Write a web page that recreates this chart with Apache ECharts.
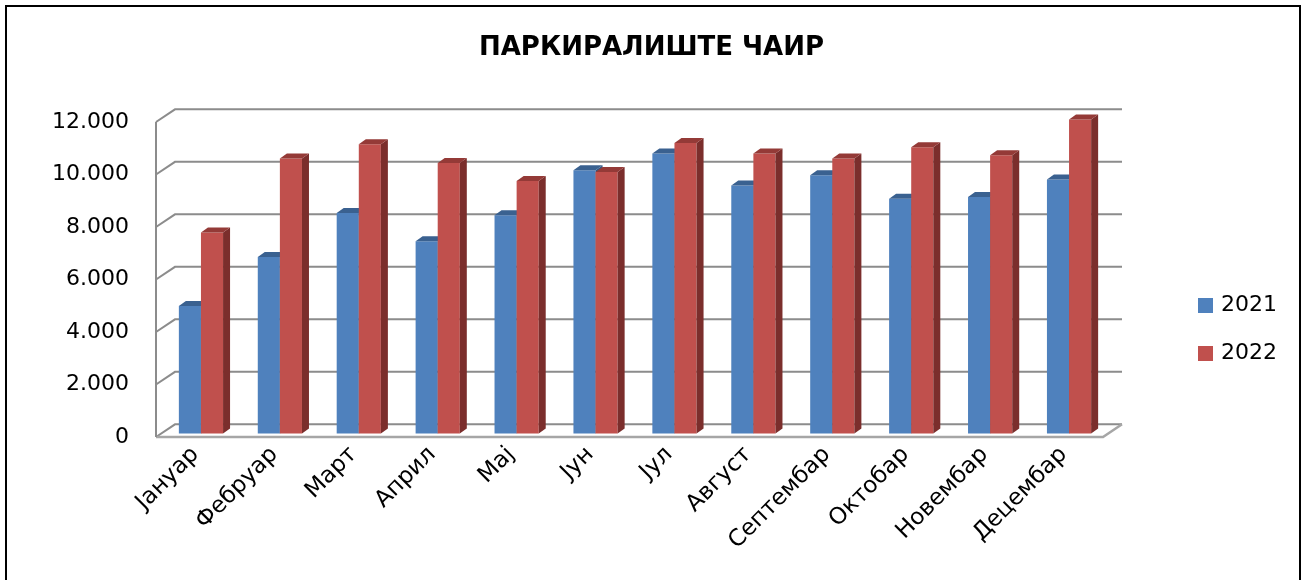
<!DOCTYPE html>
<html><head><meta charset="utf-8">
<script src="https://cdn.jsdelivr.net/npm/echarts@6.0.0/dist/echarts.min.js"></script>
<style>html,body{margin:0;padding:0;background:#fff}#c{width:1303px;height:580px}</style>
</head><body><div id="c"></div>
<script>
const chartTitle = 'ПАРКИРАЛИШТЕ ЧАИР';
const months = ['Јануар','Фебруар','Март','Април','Мај','Јун','Јул','Август','Септембар','Октобар','Новембар','Децембар'];
const values2021 = [4860, 6730, 8400, 7330, 8320, 10030, 10670, 9450, 9840, 8950, 9010, 9680];
const values2022 = [7660, 10480, 11020, 10310, 9620, 9970, 11070, 10670, 10480, 10910, 10600, 11970];
const yTicks = [0, 2000, 4000, 6000, 8000, 10000, 12000];
const seriesNames = ['2021', '2022'];

const FONT = 'DejaVu Sans';
const WALL_DX = 19, WALL_DY = 12.7;   // depth of back wall
const BAR_SX = 5.5, BAR_SY = -3.4;    // bar front face offset from front plane
const BAR_DX = 7, BAR_DY = 5;         // bar depth
const BAR_FRAC = 0.28;

function fmt(v){ return String(v).replace(/\B(?=(\d{3})+(?!\d))/g, '.'); }

function wallRender(params, api){
  const cs = params.coordSys;
  const L = cs.x, R = cs.x + cs.width;
  const v = api.value(1);
  const y = api.coord([0, v])[1];
  const children = [];
  const ls = {stroke:'#8c8c8c', lineWidth:2, fill:null};
  children.push({type:'polyline', shape:{points:[[L,y],[L+WALL_DX,y-WALL_DY],[R+WALL_DX,y-WALL_DY]]}, style:ls});
  if (v === yTicks[0]) {
    children.push({type:'polyline', shape:{points:[[L,y],[R,y],[R+WALL_DX,y-WALL_DY]]}, style:{stroke:'#a6a6a6', lineWidth:2.5, fill:null}});
    const yTop = api.coord([0, yTicks[yTicks.length-1]])[1];
    children.push({type:'line', shape:{x1:L,y1:y,x2:L,y2:yTop}, style:{stroke:'#8c8c8c', lineWidth:2}});
  }
  return {type:'group', children};
}

function barRender(idx, front, top, side){
  return function(params, api){
    const i = api.value(0), v = api.value(1);
    const band = api.size([1,0])[0];
    const bw = band * BAR_FRAC;
    const c = api.coord([i, v]);
    const b = api.coord([i, 0]);
    const x0 = c[0] + BAR_SX + (idx === 0 ? -bw : 0);
    const yT = c[1] + BAR_SY, yB = b[1] + BAR_SY;
    return {type:'group', children:[
      {type:'rect', shape:{x:x0, y:yT, width:bw, height:yB-yT}, style:{fill:front}},
      {type:'polygon', shape:{points:[[x0+bw,yT],[x0+bw+BAR_DX,yT-BAR_DY],[x0+bw+BAR_DX,yB-BAR_DY],[x0+bw,yB]]}, style:{fill:side}},
      {type:'polygon', shape:{points:[[x0,yT],[x0+BAR_DX,yT-BAR_DY],[x0+bw+BAR_DX,yT-BAR_DY],[x0+bw,yT]]}, style:{fill:top}}
    ]};
  };
}

const colors = [
  {front:'#4F81BD', top:'#3A6190', side:'#345782'},
  {front:'#C0504D', top:'#943A37', side:'#7B2E2C'}
];

const chart = echarts.init(document.getElementById('c'), null, {renderer:'canvas'});
chart.setOption({
  animation:false,
  backgroundColor:'#fff',
  title:{text:chartTitle, left:'center', top:35, padding:0,
    textStyle:{fontFamily:FONT, fontWeight:'bold', fontSize:26, color:'#000'}},
  legend:{orient:'vertical', left:1198, top:294.5, padding:0, itemGap:26, itemWidth:15, itemHeight:15,
    textStyle:{fontFamily:FONT, fontSize:22, lineHeight:22, color:'#000', padding:[0,0,0,3]},
    data: seriesNames.map((n,k)=>({name:n, icon:'rect', itemStyle:{color:colors[k].front}}))},
  grid:{left:156, top:122, width:947, height:315, containLabel:false},
  xAxis:{type:'category', data:months, boundaryGap:true,
    axisLine:{show:false}, axisTick:{show:false}, splitLine:{show:false},
    axisLabel:{rotate:45, margin:14, interval:0, fontFamily:FONT, fontSize:23, color:'#000'}},
  yAxis:{type:'value', min:0, max:12000, interval:2000,
    axisLine:{show:false}, axisTick:{show:false}, splitLine:{show:false},
    axisLabel:{margin:27, fontFamily:FONT, fontSize:22, color:'#000', formatter:fmt}},
  graphic:[{type:'rect', shape:{x:6, y:6, width:1294, height:600}, style:{fill:null, stroke:'#000', lineWidth:2}, silent:true}],
  series:[
    {type:'custom', name:'walls', z:1, renderItem:wallRender, data:yTicks.map(v=>[0,v]), silent:true},
    {type:'custom', name:seriesNames[0], z:2, itemStyle:{color:colors[0].front},
      renderItem:barRender(0, colors[0].front, colors[0].top, colors[0].side), data:values2021.map((v,i)=>[i,v])},
    {type:'custom', name:seriesNames[1], z:3, itemStyle:{color:colors[1].front},
      renderItem:barRender(1, colors[1].front, colors[1].top, colors[1].side), data:values2022.map((v,i)=>[i,v])}
  ]
});
</script></body></html>
